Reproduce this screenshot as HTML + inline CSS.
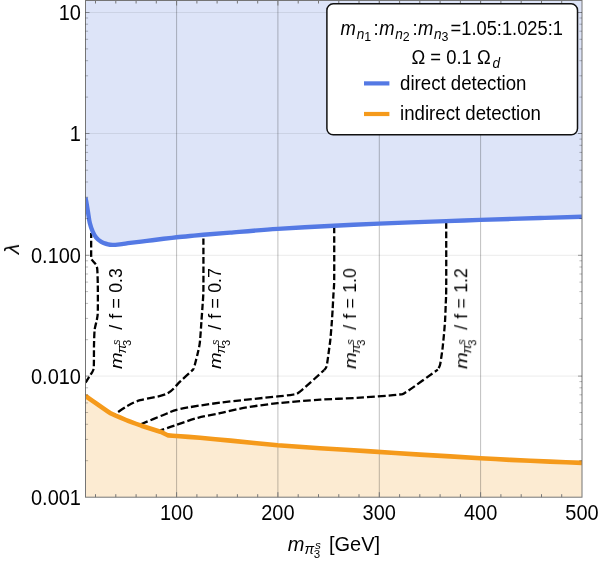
<!DOCTYPE html>
<html><head><meta charset="utf-8"><title>plot</title><style>html,body{margin:0;padding:0;background:#fff;overflow:hidden}</style></head><body>
<svg width="598" height="564" viewBox="0 0 598 564" style="display:block">
<defs><clipPath id="pc"><rect x="85.5" y="0.5" width="496.5" height="496.7"/></clipPath></defs>
<rect width="598" height="564" fill="#fff"/>
<g clip-path="url(#pc)">
<path d="M85.5,197.6 C85.7,198.6 86.2,201.1 86.6,203.5 C87.0,205.9 87.5,208.8 88.0,212.0 C88.5,215.2 89.0,219.7 89.8,223.0 C90.6,226.3 91.7,229.4 92.8,231.8 C93.9,234.2 94.8,236.0 96.2,237.7 C97.6,239.4 99.5,240.8 101.3,241.9 C103.1,243.0 104.9,243.5 106.8,244.0 C108.7,244.5 110.1,244.9 112.6,244.9 C115.1,244.9 118.9,244.4 121.8,244.1 C124.7,243.8 126.0,243.4 130.2,242.9 C134.4,242.4 141.3,241.6 146.9,240.9 C152.5,240.2 158.7,239.4 163.6,238.8 C168.5,238.2 172.2,237.8 176.6,237.3 C181.0,236.8 185.5,236.4 190.0,236.0 C194.5,235.6 196.8,235.4 203.5,234.8 C210.2,234.3 217.6,233.6 230.0,232.6 C242.4,231.6 260.5,230.0 277.8,228.9 C295.1,227.8 317.1,226.6 334.0,225.8 C350.9,224.9 360.3,224.4 379.0,223.6 C397.7,222.8 429.1,221.7 446.0,221.1 C462.9,220.5 464.8,220.5 480.5,219.9 C496.2,219.4 523.1,218.5 540.0,218.0 C556.9,217.5 575.0,217.0 582.0,216.8 L582.0,0.5 L85.5,0.5 Z" fill="#dde4f8"/>
<path d="M85.5,396.0 C86.0,396.3 97.0,404.0 98.0,404.7 C99.0,405.4 109.4,412.7 110.5,413.3 C111.6,413.9 124.8,419.5 126.0,420.0 C127.2,420.5 140.0,425.2 141.4,425.7 C142.8,426.2 159.2,431.3 160.3,431.7 C161.4,432.1 167.1,435.0 167.8,435.2 C168.5,435.4 175.3,435.9 176.6,436.0 C177.9,436.1 197.8,437.6 200.0,437.8 C202.2,438.0 227.4,440.3 230.5,440.6 C233.6,440.9 274.1,444.9 277.7,445.2 C281.3,445.5 316.3,448.0 320.0,448.2 C323.7,448.4 366.5,451.1 370.5,451.4 C374.5,451.7 415.6,454.3 420.0,454.6 C424.4,454.9 476.9,458.0 480.5,458.2 C484.1,458.4 507.7,459.8 510.5,459.9 C513.3,460.0 547.1,461.5 550.0,461.6 C552.9,461.7 580.7,462.8 582.0,462.9 L582.0,497.2 L85.5,497.2 Z" fill="#fcebd2"/>
<line x1="85.5" x2="582.0" y1="12.5" y2="12.5" stroke="#000" stroke-opacity="0.08" stroke-width="1"/>
<line x1="85.5" x2="582.0" y1="133.5" y2="133.5" stroke="#000" stroke-opacity="0.08" stroke-width="1"/>
<line x1="85.5" x2="582.0" y1="255.3" y2="255.3" stroke="#000" stroke-opacity="0.08" stroke-width="1"/>
<line x1="85.5" x2="582.0" y1="376.1" y2="376.1" stroke="#000" stroke-opacity="0.08" stroke-width="1"/>
<line x1="176.6" x2="176.6" y1="0.5" y2="497.2" stroke="#000" stroke-opacity="0.25" stroke-width="1"/>
<line x1="277.9" x2="277.9" y1="0.5" y2="497.2" stroke="#000" stroke-opacity="0.25" stroke-width="1"/>
<line x1="379.3" x2="379.3" y1="0.5" y2="497.2" stroke="#000" stroke-opacity="0.25" stroke-width="1"/>
<line x1="480.6" x2="480.6" y1="0.5" y2="497.2" stroke="#000" stroke-opacity="0.25" stroke-width="1"/>
<path d="M85.5,382.5 C86.3,381.3 91.0,374.3 92.0,372.5 C93.0,370.7 93.6,370.2 93.8,367.0 C94.0,363.8 93.9,349.3 94.0,345.0 C94.1,340.7 94.3,332.9 94.6,330.0 C94.9,327.1 96.4,322.1 96.8,320.0 C97.2,317.9 97.7,316.1 97.8,312.0 C97.9,307.9 97.9,290.1 97.8,285.0 C97.7,279.9 97.5,270.9 97.2,268.5 C96.9,266.1 96.1,265.0 95.5,264.0 C94.9,263.0 92.5,260.9 92.0,260.0 C91.5,259.1 91.3,259.4 91.2,256.3 C91.1,253.2 91.2,235.7 91.2,233.0" fill="none" stroke="#000" stroke-width="2.3" stroke-dasharray="6.6,2.7" stroke-linejoin="round"/>
<path d="M203.4,238.5 C203.4,244.5 203.5,282.2 203.4,290.0 C203.3,297.8 202.8,301.5 202.6,305.0 C202.4,308.5 201.8,315.9 201.5,320.3 C201.2,324.7 200.3,338.9 199.8,342.9 C199.3,346.9 198.0,352.0 197.3,355.0 C196.6,358.0 194.2,367.2 193.8,368.8" fill="none" stroke="#000" stroke-width="2.3" stroke-dasharray="6.6,2.7" stroke-linejoin="round"/>
<path d="M193.8,368.8 C191.8,370.7 184.4,377.6 180.3,381.4 C176.2,385.2 172.5,391.1 166.5,393.9 C160.5,396.7 146.0,398.4 140.2,400.2 C134.4,402.0 131.5,403.6 127.7,405.7 C123.9,407.8 117.0,412.8 115.1,414.0" fill="none" stroke="#000" stroke-width="2.3" stroke-dasharray="7.7,3.0" stroke-dashoffset="4" stroke-linejoin="round"/>
<path d="M334.2,227.0 C334.2,233.2 334.3,272.1 334.2,280.0 C334.1,287.9 333.6,291.5 333.4,295.0 C333.2,298.5 332.8,306.5 332.6,310.0 C332.4,313.5 331.9,321.4 331.6,325.0 C331.3,328.6 330.6,337.7 330.2,341.0 C329.8,344.3 329.0,350.0 328.6,353.0 C328.2,356.0 327.1,364.3 326.6,366.3 C326.1,368.3 324.4,369.7 324.1,370.1" fill="none" stroke="#000" stroke-width="2.3" stroke-dasharray="6.6,2.7" stroke-linejoin="round"/>
<path d="M324.1,370.1 C320.5,373.3 305.0,387.7 300.3,391.4 C295.6,395.1 296.1,393.9 292.7,394.7 C289.3,395.4 288.6,395.2 277.7,396.4 C266.8,397.6 234.6,400.8 220.0,402.7 C205.4,404.6 188.9,407.1 180.3,409.0 C171.7,410.9 168.6,412.9 162.8,415.2 C157.0,417.4 144.6,422.7 141.4,424.0" fill="none" stroke="#000" stroke-width="2.3" stroke-dasharray="7.7,3.0" stroke-dashoffset="4" stroke-linejoin="round"/>
<path d="M446.2,222.5 C446.2,230.4 446.3,280.4 446.2,290.0 C446.1,299.6 445.8,301.5 445.7,305.0 C445.6,308.5 445.3,316.6 445.1,320.0 C444.9,323.4 444.3,330.7 444.0,334.0 C443.7,337.3 442.9,345.2 442.6,348.0 C442.3,350.8 441.5,356.0 441.2,358.0 C440.9,360.0 440.4,363.6 440.0,365.0 C439.6,366.4 438.1,369.1 437.8,369.6" fill="none" stroke="#000" stroke-width="2.3" stroke-dasharray="6.6,2.7" stroke-linejoin="round"/>
<path d="M437.8,369.6 C433.1,372.9 412.4,388.1 406.4,391.9 C400.4,395.7 404.6,393.8 397.6,394.7 C390.6,395.6 371.6,396.9 360.0,397.7 C348.4,398.4 332.6,398.9 320.3,399.7 C308.0,400.5 289.0,402.0 277.7,403.2 C266.4,404.4 253.8,406.2 245.1,407.7 C236.4,409.2 227.1,411.7 220.0,413.2 C212.9,414.7 204.6,416.0 197.9,417.8 C191.2,419.6 180.9,423.4 175.3,425.3 C169.7,427.2 162.6,429.6 160.3,430.3" fill="none" stroke="#000" stroke-width="2.3" stroke-dasharray="7.7,3.0" stroke-dashoffset="4" stroke-linejoin="round"/>
<path d="M85.5,197.6 C85.7,198.6 86.2,201.1 86.6,203.5 C87.0,205.9 87.5,208.8 88.0,212.0 C88.5,215.2 89.0,219.7 89.8,223.0 C90.6,226.3 91.7,229.4 92.8,231.8 C93.9,234.2 94.8,236.0 96.2,237.7 C97.6,239.4 99.5,240.8 101.3,241.9 C103.1,243.0 104.9,243.5 106.8,244.0 C108.7,244.5 110.1,244.9 112.6,244.9 C115.1,244.9 118.9,244.4 121.8,244.1 C124.7,243.8 126.0,243.4 130.2,242.9 C134.4,242.4 141.3,241.6 146.9,240.9 C152.5,240.2 158.7,239.4 163.6,238.8 C168.5,238.2 172.2,237.8 176.6,237.3 C181.0,236.8 185.5,236.4 190.0,236.0 C194.5,235.6 196.8,235.4 203.5,234.8 C210.2,234.3 217.6,233.6 230.0,232.6 C242.4,231.6 260.5,230.0 277.8,228.9 C295.1,227.8 317.1,226.6 334.0,225.8 C350.9,224.9 360.3,224.4 379.0,223.6 C397.7,222.8 429.1,221.7 446.0,221.1 C462.9,220.5 464.8,220.5 480.5,219.9 C496.2,219.4 523.1,218.5 540.0,218.0 C556.9,217.5 575.0,217.0 582.0,216.8" fill="none" stroke="#5479e4" stroke-width="4.4" stroke-linejoin="round"/>
<path d="M85.5,396.0 C86.0,396.3 97.0,404.0 98.0,404.7 C99.0,405.4 109.4,412.7 110.5,413.3 C111.6,413.9 124.8,419.5 126.0,420.0 C127.2,420.5 140.0,425.2 141.4,425.7 C142.8,426.2 159.2,431.3 160.3,431.7 C161.4,432.1 167.1,435.0 167.8,435.2 C168.5,435.4 175.3,435.9 176.6,436.0 C177.9,436.1 197.8,437.6 200.0,437.8 C202.2,438.0 227.4,440.3 230.5,440.6 C233.6,440.9 274.1,444.9 277.7,445.2 C281.3,445.5 316.3,448.0 320.0,448.2 C323.7,448.4 366.5,451.1 370.5,451.4 C374.5,451.7 415.6,454.3 420.0,454.6 C424.4,454.9 476.9,458.0 480.5,458.2 C484.1,458.4 507.7,459.8 510.5,459.9 C513.3,460.0 547.1,461.5 550.0,461.6 C552.9,461.7 580.7,462.8 582.0,462.9" fill="none" stroke="#f59a1b" stroke-width="4.6" stroke-linejoin="round"/>
</g>
<rect x="85.5" y="0.5" width="496.5" height="496.7" fill="none" stroke="#757575" stroke-width="1"/>
<path d="M95.5,497.2 v-3 M95.5,0.5 v3 M115.8,497.2 v-3 M115.8,0.5 v3 M136.1,497.2 v-3 M136.1,0.5 v3 M156.3,497.2 v-3 M156.3,0.5 v3 M176.6,497.2 v-5 M176.6,0.5 v5 M196.9,497.2 v-3 M196.9,0.5 v3 M217.1,497.2 v-3 M217.1,0.5 v3 M237.4,497.2 v-3 M237.4,0.5 v3 M257.7,497.2 v-3 M257.7,0.5 v3 M277.9,497.2 v-5 M277.9,0.5 v5 M298.2,497.2 v-3 M298.2,0.5 v3 M318.5,497.2 v-3 M318.5,0.5 v3 M338.8,497.2 v-3 M338.8,0.5 v3 M359.0,497.2 v-3 M359.0,0.5 v3 M379.3,497.2 v-5 M379.3,0.5 v5 M399.6,497.2 v-3 M399.6,0.5 v3 M419.8,497.2 v-3 M419.8,0.5 v3 M440.1,497.2 v-3 M440.1,0.5 v3 M460.4,497.2 v-3 M460.4,0.5 v3 M480.6,497.2 v-5 M480.6,0.5 v5 M500.9,497.2 v-3 M500.9,0.5 v3 M521.2,497.2 v-3 M521.2,0.5 v3 M541.5,497.2 v-3 M541.5,0.5 v3 M561.7,497.2 v-3 M561.7,0.5 v3" stroke="#757575" stroke-width="1" fill="none"/>
<path d="M85.5,376.1 h4 M582.0,376.1 h-4 M85.5,255.3 h4 M582.0,255.3 h-4 M85.5,133.5 h4 M582.0,133.5 h-4 M85.5,12.5 h4 M582.0,12.5 h-4" stroke="#000" stroke-opacity="0.38" stroke-width="1" fill="none"/>
<path d="M85.5,460.7 h2.6 M582.0,460.7 h-2.6 M85.5,439.4 h2.6 M582.0,439.4 h-2.6 M85.5,424.3 h2.6 M582.0,424.3 h-2.6 M85.5,412.5 h2.6 M582.0,412.5 h-2.6 M85.5,402.9 h2.6 M582.0,402.9 h-2.6 M85.5,394.8 h2.6 M582.0,394.8 h-2.6 M85.5,387.8 h2.6 M582.0,387.8 h-2.6 M85.5,381.6 h2.6 M582.0,381.6 h-2.6 M85.5,339.7 h2.6 M582.0,339.7 h-2.6 M85.5,318.4 h2.6 M582.0,318.4 h-2.6 M85.5,303.4 h2.6 M582.0,303.4 h-2.6 M85.5,291.6 h2.6 M582.0,291.6 h-2.6 M85.5,282.1 h2.6 M582.0,282.1 h-2.6 M85.5,274.0 h2.6 M582.0,274.0 h-2.6 M85.5,267.0 h2.6 M582.0,267.0 h-2.6 M85.5,260.8 h2.6 M582.0,260.8 h-2.6 M85.5,218.6 h2.6 M582.0,218.6 h-2.6 M85.5,197.2 h2.6 M582.0,197.2 h-2.6 M85.5,182.0 h2.6 M582.0,182.0 h-2.6 M85.5,170.2 h2.6 M582.0,170.2 h-2.6 M85.5,160.5 h2.6 M582.0,160.5 h-2.6 M85.5,152.4 h2.6 M582.0,152.4 h-2.6 M85.5,145.3 h2.6 M582.0,145.3 h-2.6 M85.5,139.1 h2.6 M582.0,139.1 h-2.6 M85.5,97.1 h2.6 M582.0,97.1 h-2.6 M85.5,75.8 h2.6 M582.0,75.8 h-2.6 M85.5,60.7 h2.6 M582.0,60.7 h-2.6 M85.5,48.9 h2.6 M582.0,48.9 h-2.6 M85.5,39.3 h2.6 M582.0,39.3 h-2.6 M85.5,31.2 h2.6 M582.0,31.2 h-2.6 M85.5,24.2 h2.6 M582.0,24.2 h-2.6 M85.5,18.0 h2.6 M582.0,18.0 h-2.6" stroke="#000" stroke-opacity="0.3" stroke-width="0.9" fill="none"/>
<g style="will-change:opacity;opacity:0.999">
<text transform="translate(176.6,520.3) scale(1,1.06)" font-size="20" text-anchor="middle" font-family="Liberation Sans, sans-serif">100</text>
<text transform="translate(277.9,520.3) scale(1,1.06)" font-size="20" text-anchor="middle" font-family="Liberation Sans, sans-serif">200</text>
<text transform="translate(379.3,520.3) scale(1,1.06)" font-size="20" text-anchor="middle" font-family="Liberation Sans, sans-serif">300</text>
<text transform="translate(480.6,520.3) scale(1,1.06)" font-size="20" text-anchor="middle" font-family="Liberation Sans, sans-serif">400</text>
<text transform="translate(582.0,520.3) scale(1,1.06)" font-size="20" text-anchor="middle" font-family="Liberation Sans, sans-serif">500</text>
<text transform="translate(81,20.1) scale(1,1.06)" font-size="20" text-anchor="end" font-family="Liberation Sans, sans-serif">10</text>
<text transform="translate(81,141.1) scale(1,1.06)" font-size="20" text-anchor="end" font-family="Liberation Sans, sans-serif">1</text>
<text transform="translate(81,262.9) scale(1,1.06)" font-size="20" text-anchor="end" font-family="Liberation Sans, sans-serif">0.100</text>
<text transform="translate(81,383.7) scale(1,1.06)" font-size="20" text-anchor="end" font-family="Liberation Sans, sans-serif">0.010</text>
<text transform="translate(81,504.8) scale(1,1.06)" font-size="20" text-anchor="end" font-family="Liberation Sans, sans-serif">0.001</text>
<text transform="translate(19,248.9) rotate(-90)" font-size="21" font-style="italic" text-anchor="middle" font-family="Liberation Sans, sans-serif">λ</text>
<g font-family="Liberation Sans, sans-serif" font-size="20"><text x="287.7" y="550.6" font-style="italic">m</text><text x="304.4" y="553.9" font-size="14.5" font-style="italic">π</text><text x="313.8" y="558.1" font-size="11.5">3</text><text x="315" y="548.6" font-size="11.8" font-style="italic">s</text><text transform="translate(329.0,550.5) scale(1,1.04)" font-size="20">[GeV]</text></g>
<g transform="translate(121.6,368.3) rotate(-90)" font-family="Liberation Sans, sans-serif" font-size="17.7"><text transform="translate(-0.8,0) scale(1.17,1)" font-size="17.2" font-style="italic">m</text><text transform="translate(14.8,3.9) scale(1.12,1)" font-size="12.2" font-style="italic">π</text><text x="22.4" y="9.0" font-size="11">3</text><text x="23.4" y="-1.9" font-size="11" font-style="italic">s</text><text x="38.5" y="0">/</text><text x="49.5" y="0">f</text><text x="59.7" y="0">=</text><text x="75.5" y="0">0.3</text></g>
<g transform="translate(221.1,368.3) rotate(-90)" font-family="Liberation Sans, sans-serif" font-size="17.7"><text transform="translate(-0.8,0) scale(1.17,1)" font-size="17.2" font-style="italic">m</text><text transform="translate(14.8,3.9) scale(1.12,1)" font-size="12.2" font-style="italic">π</text><text x="22.4" y="9.0" font-size="11">3</text><text x="23.4" y="-1.9" font-size="11" font-style="italic">s</text><text x="38.5" y="0">/</text><text x="49.5" y="0">f</text><text x="59.7" y="0">=</text><text x="75.5" y="0">0.7</text></g>
<g transform="translate(356.0,368.3) rotate(-90)" font-family="Liberation Sans, sans-serif" font-size="17.7"><text transform="translate(-0.8,0) scale(1.17,1)" font-size="17.2" font-style="italic">m</text><text transform="translate(14.8,3.9) scale(1.12,1)" font-size="12.2" font-style="italic">π</text><text x="22.4" y="9.0" font-size="11">3</text><text x="23.4" y="-1.9" font-size="11" font-style="italic">s</text><text x="38.5" y="0">/</text><text x="49.5" y="0">f</text><text x="59.7" y="0">=</text><text x="75.5" y="0">1.0</text></g>
<g transform="translate(467.2,368.3) rotate(-90)" font-family="Liberation Sans, sans-serif" font-size="17.7"><text transform="translate(-0.8,0) scale(1.17,1)" font-size="17.2" font-style="italic">m</text><text transform="translate(14.8,3.9) scale(1.12,1)" font-size="12.2" font-style="italic">π</text><text x="22.4" y="9.0" font-size="11">3</text><text x="23.4" y="-1.9" font-size="11" font-style="italic">s</text><text x="38.5" y="0">/</text><text x="49.5" y="0">f</text><text x="59.7" y="0">=</text><text x="75.5" y="0">1.2</text></g>
<rect x="326.9" y="3.85" width="250.6" height="130.95" rx="6.3" ry="6.3" fill="#fff" stroke="#111" stroke-width="1.5"/>
<g font-family="Liberation Sans, sans-serif"><text transform="translate(340.6,35.1) scale(1.0,1.06)" font-size="18.4" font-style="italic">m</text><text transform="translate(356.7,39.1) scale(1.0,1.06)" font-size="13.6" font-style="italic">n</text><text transform="translate(364.2,40.7) scale(1.0,1.06)" font-size="12.4">1</text><text transform="translate(373.4,35.1) scale(1.0,1.06)" font-size="18.4">:</text><text transform="translate(379.2,35.1) scale(1.0,1.06)" font-size="18.4" font-style="italic">m</text><text transform="translate(395.3,39.1) scale(1.0,1.06)" font-size="13.6" font-style="italic">n</text><text transform="translate(402.8,40.7) scale(1.0,1.06)" font-size="12.4">2</text><text transform="translate(412.6,35.1) scale(1.0,1.06)" font-size="18.4">:</text><text transform="translate(418.0,35.1) scale(1.0,1.06)" font-size="18.4" font-style="italic">m</text><text transform="translate(434.1,39.1) scale(1.0,1.06)" font-size="13.6" font-style="italic">n</text><text transform="translate(441.6,40.7) scale(1.0,1.06)" font-size="12.4">3</text><text transform="translate(450.6,35.1) scale(1.0,1.06)" font-size="18.3">=1.05:1.025:1</text><text transform="translate(411.5,64.3) scale(1.0,1.06)" font-size="18.4">Ω = 0.1 Ω</text><text transform="translate(492.5,68.3) scale(1.0,1.06)" font-size="13.6" font-style="italic">d</text><text transform="translate(400.1,90.0) scale(1.0,1.06)" font-size="18.65">direct detection</text><text transform="translate(400.1,120.2) scale(1.0,1.06)" font-size="18.65">indirect detection</text></g>
</g>
<line x1="364" x2="389.4" y1="83.4" y2="83.4" stroke="#5479e4" stroke-width="4.2"/>
<line x1="364" x2="389.4" y1="114.0" y2="114.0" stroke="#f59a1b" stroke-width="4.2"/>
</svg>
</body></html>
